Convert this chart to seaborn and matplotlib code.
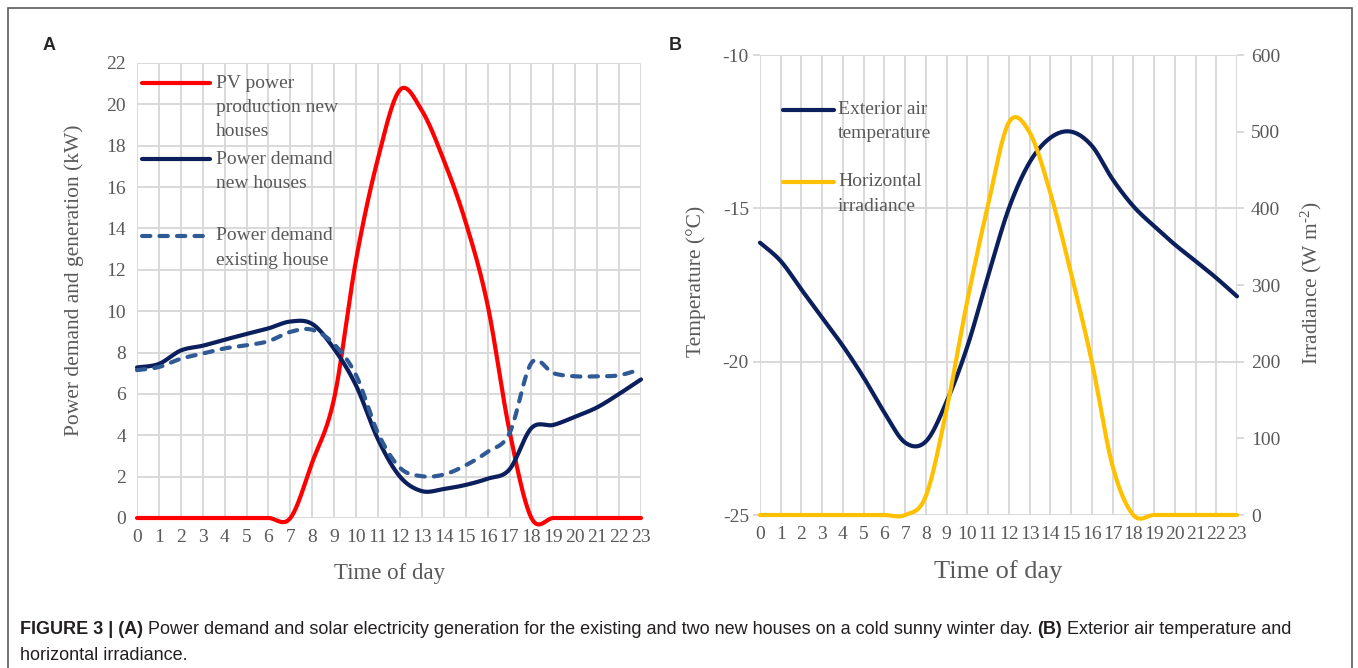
import numpy as np
import pandas as pd
import matplotlib
matplotlib.use("Agg")
import matplotlib.pyplot as plt
from matplotlib.lines import Line2D
from matplotlib.patches import Rectangle
import seaborn as sns

# ---------------- data (hourly values) ----------------
hours = list(range(24))
hour_labels = [str(h) for h in hours]

pv_new = [0, 0, 0, 0, 0, 0, 0, 0, 2.7, 5.8, 12.5, 17.4, 20.7, 19.7, 17.3, 14.3,
          10.3, 4.2, 0, 0, 0, 0, 0, 0]
demand_new = [7.28, 7.45, 8.1, 8.33, 8.62, 8.9, 9.17, 9.5, 9.38, 8.17, 6.4, 3.8,
              2.0, 1.3, 1.4, 1.6, 1.9, 2.35, 4.35, 4.5, 4.9, 5.35, 6.0, 6.7]
demand_existing = [7.15, 7.3, 7.7, 7.95, 8.2, 8.35, 8.55, 9.0, 9.1, 8.4, 6.9, 4.1,
                   2.43, 2.02, 2.1, 2.55, 3.2, 4.1, 7.5, 7.0, 6.85, 6.85, 6.9, 7.2]

temperature = [-16.12, -16.72, -17.65, -18.57, -19.49, -20.52, -21.66, -22.64,
               -22.6, -21.3, -19.5, -17.2, -15.0, -13.5, -12.7, -12.5, -12.96,
               -14.05, -14.93, -15.58, -16.18, -16.72, -17.27, -17.87]
irradiance = [0, 0, 0, 0, 0, 0, 0, 0, 25, 138, 280, 405, 512, 499, 420, 315, 200,
              64, 0, 0, 0, 0, 0, 0]

a_yticks = list(range(0, 23, 2))
b_yticks = [-25, -20, -15, -10]
b_y2ticks = list(range(0, 601, 100))

legend_a = ["PV power\nproduction new\nhouses", "Power demand\nnew houses",
            "Power demand\nexisting house"]
legend_b = ["Exterior air\ntemperature", "Horizontal\nirradiance"]

caption_bold1 = "FIGURE 3 | (A)"
caption_text1 = ("Power demand and solar electricity generation for the existing and "
                 "two new houses on a cold sunny winter day.")
caption_bold2 = "(B)"
caption_text2 = "Exterior air temperature and"
caption_line2 = "horizontal irradiance."

# ---------------- styling ----------------
RED = "#FF0000"
NAVY = "#0B1F5C"
DASH = "#2F5A96"
YEL = "#FFC000"
GRID = "#D9D9D9"
TXT = "#595959"

W, H = 1358, 668
sns.set_theme(style="white")
plt.rcParams["font.family"] = ["Liberation Serif", "DejaVu Serif"]
plt.rcParams["axes.unicode_minus"] = False
plt.rcParams["mathtext.fontset"] = "custom"
plt.rcParams["mathtext.rm"] = "Liberation Serif"
plt.rcParams["mathtext.it"] = "Liberation Serif:italic"
plt.rcParams["mathtext.bf"] = "Liberation Serif:bold"


def excel_smooth(x, y, per=30):
    """Excel-style smoothed line (Catmull-Rom) through the given points."""
    x = np.asarray(x, float)
    y = np.asarray(y, float)
    xp = np.concatenate([[x[0]], x, [x[-1]]])
    yp = np.concatenate([[y[0]], y, [y[-1]]])
    t = np.linspace(0, 1, per, endpoint=False)
    h00 = 2 * t**3 - 3 * t**2 + 1
    h10 = t**3 - 2 * t**2 + t
    h01 = -2 * t**3 + 3 * t**2
    h11 = t**3 - t**2
    ox, oy = [], []
    for i in range(len(x) - 1):
        for arr, out in ((xp, ox), (yp, oy)):
            p0, p1, p2, p3 = arr[i], arr[i + 1], arr[i + 2], arr[i + 3]
            m1 = (p2 - p0) / 2
            m2 = (p3 - p1) / 2
            out.extend(h00 * p1 + h10 * m1 + h01 * p2 + h11 * m2)
    ox.append(x[-1])
    oy.append(y[-1])
    return np.array(ox), np.array(oy)


def fx(px):
    return px / W


def fy(py):
    return 1 - py / H


fig = plt.figure(figsize=(W / 100, H / 100), dpi=100)

# outer frame
fig.patches.append(Rectangle((fx(8), -0.02), fx(1352) - fx(8), fy(8) + 0.02,
                             transform=fig.transFigure, fill=False,
                             edgecolor="#5a5a5a", linewidth=1.2))


def style_axis(ax):
    for s in ax.spines.values():
        s.set_visible(False)
    ax.set_axisbelow(True)
    ax.grid(True, color=GRID, linewidth=1.4)
    ax.tick_params(axis="both", length=5, width=1.4, color=GRID,
                   labelcolor=TXT, labelsize=14, pad=3)
    ax.set_xlim(0, 23)
    ax.set_xticks(hours)
    ax.set_xticklabels(hour_labels)
    ax.set_xlabel("")
    ax.set_ylabel("")


# ---------------- panel A ----------------
axA = fig.add_axes([fx(137), fy(518), (641 - 137) / W, (518 - 63) / H])
for vals, col, ls in ((pv_new, RED, "-"), (demand_new, NAVY, "-"),
                      (demand_existing, DASH, (0, (2.0, 2.2)))):
    sx, sy = excel_smooth(hours, vals)
    df = pd.DataFrame({"hour": sx, "value": sy})
    sns.lineplot(data=df, x="hour", y="value", ax=axA, color=col, linewidth=3.0,
                 sort=False, estimator=None, linestyle=ls, clip_on=False,
                 dash_capstyle="round", solid_capstyle="round")
axA.set_ylim(0, 22)
axA.set_yticks(a_yticks)
style_axis(axA)

# ---------------- panel B ----------------
axB = fig.add_axes([fx(760), fy(515), (1237 - 760) / W, (515 - 55) / H])
sx, sy = excel_smooth(hours, temperature)
sns.lineplot(x=sx, y=sy, ax=axB, color=NAVY, linewidth=3.0, sort=False,
             estimator=None, clip_on=False, solid_capstyle="round")
axB.set_ylim(-25, -10)
axB.set_yticks(b_yticks)
style_axis(axB)

axB2 = axB.twinx()
sx, sy = excel_smooth(hours, irradiance)
sns.lineplot(x=sx, y=sy, ax=axB2, color=YEL, linewidth=3.0, sort=False,
             estimator=None, clip_on=False, solid_capstyle="round")
axB2.set_ylim(0, 600)
axB2.set_yticks(b_y2ticks)
axB2.set_xlim(0, 23)
for s in axB2.spines.values():
    s.set_visible(False)
axB2.grid(False)
axB2.tick_params(axis="y", length=5, width=1.4, color=GRID, labelcolor=TXT,
                 labelsize=14, pad=5, right=True)
axB2.set_ylabel("")

# ---------------- legends (Excel style, handle at first text line) ----------------
def manual_legend(entries, x0, x1, xt, ys, line_gap=24):
    for (label, col, ls), yh in zip(entries, ys):
        ln = Line2D([fx(x0), fx(x1)], [fy(yh), fy(yh)], transform=fig.transFigure,
                    color=col, linewidth=3.0, linestyle=ls,
                    dash_capstyle="round", solid_capstyle="round")
        fig.add_artist(ln)
        for k, part in enumerate(label.split("\n")):
            fig.text(fx(xt), fy(yh + k * line_gap), part, fontsize=14, color=TXT,
                     ha="left", va="center")


manual_legend([(legend_a[0], RED, "-"), (legend_a[1], NAVY, "-"),
               (legend_a[2], DASH, (0, (2.0, 2.2)))],
              142, 210, 216, [83, 159, 236])
manual_legend([(legend_b[0], NAVY, "-"), (legend_b[1], YEL, "-")],
              783, 834, 838, [110, 182])

# ---------------- axis titles ----------------
fig.text(fx(74), fy(280), "Power demand and generation (kW)", rotation=90,
         fontsize=15.5, color=TXT, ha="center", va="center")
fig.text(fx(390), fy(573), "Time of day", fontsize=16.5, color=TXT,
         ha="center", va="center")
fig.text(fx(696), fy(281), "Temperature (\u00b0C)", rotation=90,
         fontsize=15.5, color=TXT, ha="center", va="center")
fig.text(fx(1311), fy(283), r"Irradiance (W m$^{\text{-}2}$)", rotation=90,
         fontsize=15.5, color=TXT, ha="center", va="center")
fig.text(fx(998), fy(572), "Time of day", fontsize=19, color=TXT,
         ha="center", va="center")

# panel letters
fig.text(fx(49), fy(45), "A", fontsize=13, fontweight="bold",
         family=["Liberation Sans", "DejaVu Sans"], ha="center", va="center")
fig.text(fx(675), fy(45), "B", fontsize=13, fontweight="bold",
         family=["Liberation Sans", "DejaVu Sans"], ha="center", va="center")

# ---------------- caption ----------------
cap_family = ["Liberation Sans", "DejaVu Sans"]
cap_size = 13.0
renderer = fig.canvas.get_renderer()


def text_width(s, weight):
    t = fig.text(0, 0, s, fontsize=cap_size, family=cap_family, fontweight=weight)
    w = t.get_window_extent(renderer).width
    t.remove()
    return w


space = text_width("a a", "normal") - text_width("aa", "normal")
x = 20.0
for piece, weight in ((caption_bold1, "bold"), (caption_text1, "normal"),
                      (caption_bold2, "bold"), (caption_text2, "normal")):
    t = fig.text(fx(x), fy(630), piece, fontsize=cap_size, family=cap_family,
                 fontweight=weight, color="#231F20", ha="left", va="center")
    x += t.get_window_extent(renderer).width + space
fig.text(fx(20), fy(655), caption_line2, fontsize=cap_size, family=cap_family,
         color="#231F20", ha="left", va="center")

fig.savefig("out.png", dpi=100)
